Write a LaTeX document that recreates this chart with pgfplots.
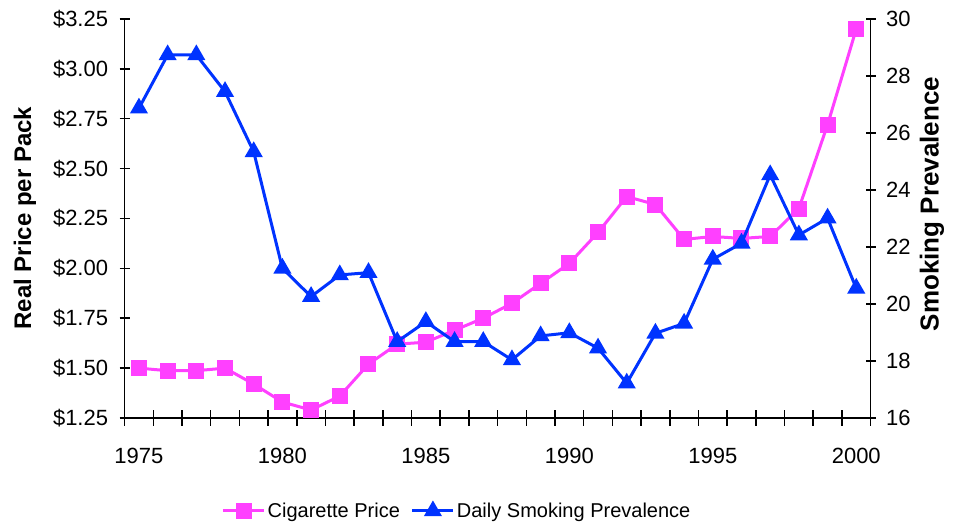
\documentclass[border=0pt]{standalone}
\usepackage{pgfplots}
\pgfplotsset{compat=1.18}
\usepackage{fontspec}
\setmainfont{Liberation Sans}
\definecolor{cigpink}{RGB}{255,64,255}
\definecolor{smkblue}{RGB}{0,51,255}
\begin{document}
\begin{tikzpicture}
\useasboundingbox (0,0) rectangle (957bp,524bp);
\pgfplotsset{
  every axis/.append style={
    scale only axis, width=746bp, height=399bp,
    xmin=1974.5, xmax=2000.5,
    /pgf/number format/assume math mode=true,
    tick align=center,
    axis line style={-, line width=1.5bp},
    every tick/.style={black, line width=1.5bp},
    major tick length=10bp,
    tick label style={font=\fontsize{22bp}{26bp}\selectfont},
    clip=false,
  }
}
% left price axis and x axis line
\begin{axis}[at={(124.6bp,106bp)}, anchor=south west,
  axis x line*=bottom, axis y line*=left,
  ymin=1.25, ymax=3.25, ytick={1.25,1.5,1.75,2,2.25,2.5,2.75,3,3.25},
  yticklabel={\$\pgfmathprintnumber[fixed,fixed zerofill,precision=2]{\tick}},
  yticklabel style={xshift=-8bp},
  xtick=\empty,
  ylabel={Real Price per Pack},
  every axis y label/.style={at={(axis description cs:-0.1335,0.501)}, rotate=90, anchor=center, font=\bfseries\fontsize{24bp}{28bp}\selectfont},
]
% category boundary tick marks on the x axis
\addplot[black, line width=1.5bp, forget plot, unbounded coords=jump] coordinates {
(1974.5,1.21) (1974.5,1.29) (1974.5,nan)
(1975.5,1.21) (1975.5,1.29) (1975.5,nan)
(1976.5,1.21) (1976.5,1.29) (1976.5,nan)
(1977.5,1.21) (1977.5,1.29) (1977.5,nan)
(1978.5,1.21) (1978.5,1.29) (1978.5,nan)
(1979.5,1.21) (1979.5,1.29) (1979.5,nan)
(1980.5,1.21) (1980.5,1.29) (1980.5,nan)
(1981.5,1.21) (1981.5,1.29) (1981.5,nan)
(1982.5,1.21) (1982.5,1.29) (1982.5,nan)
(1983.5,1.21) (1983.5,1.29) (1983.5,nan)
(1984.5,1.21) (1984.5,1.29) (1984.5,nan)
(1985.5,1.21) (1985.5,1.29) (1985.5,nan)
(1986.5,1.21) (1986.5,1.29) (1986.5,nan)
(1987.5,1.21) (1987.5,1.29) (1987.5,nan)
(1988.5,1.21) (1988.5,1.29) (1988.5,nan)
(1989.5,1.21) (1989.5,1.29) (1989.5,nan)
(1990.5,1.21) (1990.5,1.29) (1990.5,nan)
(1991.5,1.21) (1991.5,1.29) (1991.5,nan)
(1992.5,1.21) (1992.5,1.29) (1992.5,nan)
(1993.5,1.21) (1993.5,1.29) (1993.5,nan)
(1994.5,1.21) (1994.5,1.29) (1994.5,nan)
(1995.5,1.21) (1995.5,1.29) (1995.5,nan)
(1996.5,1.21) (1996.5,1.29) (1996.5,nan)
(1997.5,1.21) (1997.5,1.29) (1997.5,nan)
(1998.5,1.21) (1998.5,1.29) (1998.5,nan)
(1999.5,1.21) (1999.5,1.29) (1999.5,nan)
(2000.5,1.21) (2000.5,1.29)};
\addplot[cigpink, line width=3bp, mark=square*, mark size=6.5bp] coordinates {
(1975,1.50) (1976,1.487) (1977,1.487) (1978,1.50) (1979,1.42) (1980,1.33)
(1981,1.29) (1982,1.36) (1983,1.52) (1984,1.62) (1985,1.63) (1986,1.69)
(1987,1.75) (1988,1.825) (1989,1.925) (1990,2.025) (1991,2.18) (1992,2.36)
(1993,2.32) (1994,2.145) (1995,2.16) (1996,2.15) (1997,2.16) (1998,2.30)
(1999,2.72) (2000,3.20)};
\end{axis}
% year labels only
\begin{axis}[at={(124.6bp,106bp)}, anchor=south west,
  axis x line*=bottom, axis y line=none,
  axis line style={draw=none},
  ymin=0, ymax=1,
  major tick length=0pt,
  xtick={1975,1980,1985,1990,1995,2000},
  xticklabels={1975,1980,1985,1990,1995,2000},
  xticklabel style={yshift=-27bp},
]
\end{axis}
% right prevalence axis
\begin{axis}[at={(124.6bp,106bp)}, anchor=south west,
  axis y line*=right, axis x line=none,
  ymin=16, ymax=30, ytick={16,18,...,30},
  yticklabel style={xshift=7bp},
  ylabel={Smoking Prevalence},
  every axis y label/.style={at={(axis description cs:1.0823,0.536)}, rotate=90, anchor=center, font=\bfseries\fontsize{26bp}{30bp}\selectfont},
  legend columns=2,
  legend cell align=left,
  legend image code/.code={\draw[mark repeat=2, mark phase=2, #1] plot coordinates {(0bp,0bp) (20.5bp,0bp) (41bp,0bp)};},
  legend style={at={(axis description cs:0.4456,-0.233)}, anchor=center, draw=none, fill=none,
    font=\fontsize{20bp}{24bp}\selectfont,
    /tikz/every even column/.append style={column sep=9bp}},
]
\addlegendimage{cigpink, line width=3bp, mark=square*, mark size=6.5bp}
\addlegendentry{Cigarette Price}
\addplot[smkblue, line width=3bp, mark=triangle*, mark size=7.5bp] coordinates {
(1975,26.87) (1976,28.74) (1977,28.74) (1978,27.45) (1979,25.34) (1980,21.25)
(1981,20.26) (1982,21.02) (1983,21.10) (1984,18.68) (1985,19.38) (1986,18.68)
(1987,18.68) (1988,18.04) (1989,18.88) (1990,18.99) (1991,18.45) (1992,17.22)
(1993,18.97) (1994,19.32) (1995,21.57) (1996,22.13) (1997,24.53) (1998,22.42)
(1999,23.01) (2000,20.55)};
\addlegendentry{Daily Smoking Prevalence}
\end{axis}
\end{tikzpicture}
\end{document}
